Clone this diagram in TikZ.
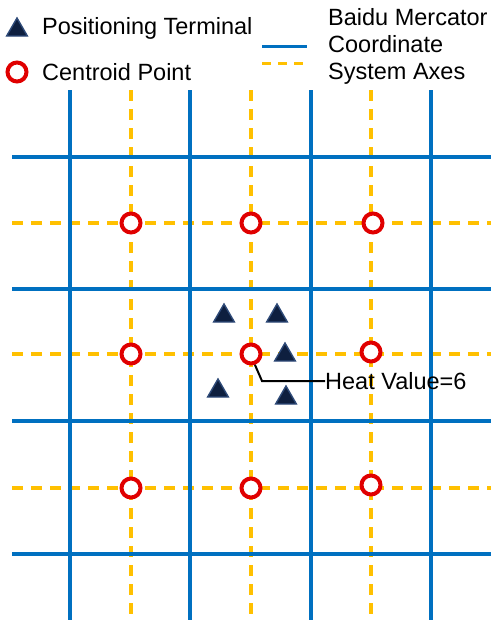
\documentclass[tikz,border=0pt]{standalone}
\usepackage{fontspec}
\setmainfont{Liberation Sans}
\usetikzlibrary{calc}
\usetikzlibrary{shapes.geometric}

\definecolor{gridblue}{HTML}{0070C0}
\definecolor{axisyellow}{HTML}{FFC000}
\definecolor{centroidred}{HTML}{E00000}
\definecolor{termnavy}{HTML}{0E1F3F}
\definecolor{termedge}{HTML}{2E4A78}

\tikzset{
  gridline/.style={gridblue,line width=4pt},
  axisline/.style={axisyellow,line width=4pt,dash pattern=on 11pt off 8pt},
  centroid/.style={circle,draw=centroidred,fill=white,line width=4pt,minimum size=19pt,inner sep=0pt},
  terminal/.style={regular polygon,regular polygon sides=3,fill=termnavy,draw=termedge,line width=1.4pt,minimum size=24pt,inner sep=0pt},
  label/.style={font=\fontsize{23.5}{28}\selectfont,inner sep=0pt}
}

\begin{document}
\begin{tikzpicture}[x=1pt,y=-1pt]
    \path[use as bounding box] (0,0) rectangle (501,630);
    % Yellow coordinate system axes.
    \foreach \x in {131,251,371}
      \draw[axisline] (\x,90) -- (\x,620);
    \foreach \y in {223,354,488}
      \draw[axisline] (12,\y) -- (491,\y);
    % Blue grid.
    \foreach \x in {70,190,311,431}
      \draw[gridline] (\x,90) -- (\x,620);
    \foreach \y in {157,289,421,554}
      \draw[gridline] (12,\y) -- (491,\y);
    % Centroid points.
    \foreach \x/\y/\n in {131/223/a, 251/223/b, 373/223/c,
                          131/354/d, 251/354/e, 371/352/f,
                          131/488/g, 251/488/h, 371/485/i}
      \node[centroid] (c\n) at (\x,\y) {};
    % Positioning terminals.
    \foreach \x/\y/\n in {224/316/1, 277/316/2, 285/355/3, 218/391/4, 286/398/5}
      \node[terminal] (t\n) at (\x,\y) {};
    % Heat value.
    \node[label,anchor=west] (heat) at (325,381) {Heat Value=6};
    \coordinate (bend) at (262,381);
    \draw[black,line width=2pt] (ce.-70) -- (bend) -- (heat.west);
    % Legend.
    \node[terminal] (legtri) at (17,30) {};
    \node[label,anchor=west] (legtritext) at (42,28) {Positioning Terminal};
    \node[centroid] (legcirc) at (17,72) {};
    \node[label,anchor=west] (legcirctext) at (42,72) {Centroid Point};
    \coordinate (blueleft) at (262,46);
    \coordinate (blueright) at (307,46);
    \coordinate (yellowleft) at (262,63);
    \coordinate (yellowright) at (307,63);
    \draw[gridblue,line width=3pt] (blueleft) -- (blueright);
    \draw[axisyellow,line width=3pt,dash pattern=on 9pt off 7pt] (yellowleft) -- (yellowright);
    \node[label,anchor=west,align=left,font=\fontsize{23.5}{27}\selectfont] (legaxes) at (328,46)
      {Baidu Mercator\\Coordinate\\System Axes};
\end{tikzpicture}
\end{document}
